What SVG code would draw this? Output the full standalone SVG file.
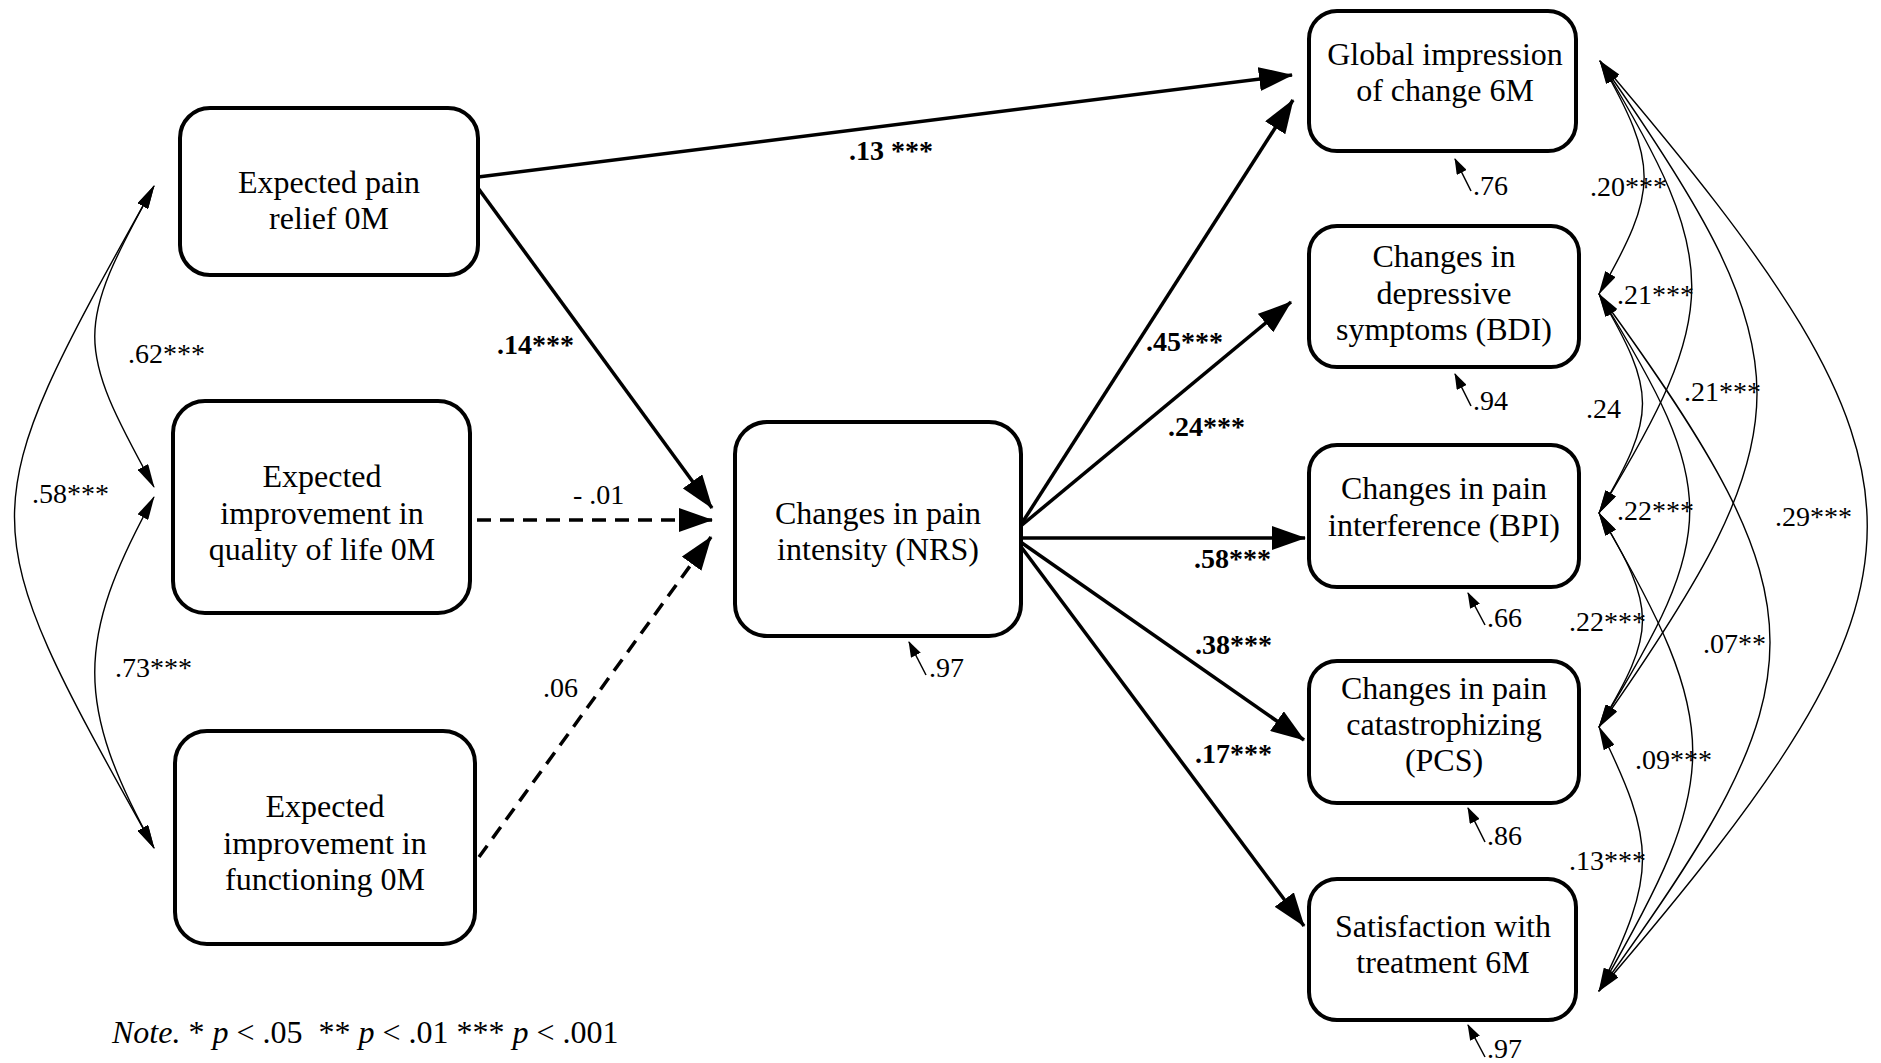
<svg xmlns="http://www.w3.org/2000/svg" width="1881" height="1063" viewBox="0 0 1881 1063">
<defs>
<marker id="ah" markerUnits="userSpaceOnUse" markerWidth="34" markerHeight="24" refX="33" refY="12" orient="auto"><path d="M0,0 L34,12 L0,24 Z" fill="#000"/></marker>
<marker id="ch" markerUnits="userSpaceOnUse" markerWidth="24" markerHeight="12" refX="23" refY="6" orient="auto-start-reverse"><path d="M0,0 L24,6 L0,12 Z" fill="#000"/></marker>
<marker id="rh" markerUnits="userSpaceOnUse" markerWidth="16" markerHeight="11" refX="15" refY="5.5" orient="auto"><path d="M0,0 L16,5.5 L0,11 Z" fill="#000"/></marker>
<style>
.box{fill:#fff;stroke:#000;stroke-width:4}
.nt{font-family:"Liberation Serif","Times New Roman",serif;font-size:32px;text-anchor:middle;fill:#000}
.lb{font-family:"Liberation Serif","Times New Roman",serif;font-size:28px;fill:#000}
.b{font-weight:bold}
.pa{stroke:#000;stroke-width:3.5;fill:none;marker-end:url(#ah)}
.dash{stroke-dasharray:14 9}
.cor{stroke:#000;stroke-width:1.4;fill:none;marker-start:url(#ch);marker-end:url(#ch)}
.res{stroke:#000;stroke-width:1.5;fill:none;marker-end:url(#rh)}
</style>
</defs>
<rect width="1881" height="1063" fill="#fff"/>

<g id="connectors">
  <!-- regression paths -->
  <line class="pa" x1="478" y1="177" x2="1292" y2="75"/>
  <line class="pa" x1="478" y1="188" x2="712" y2="508"/>
  <line class="pa dash" x1="477" y1="520" x2="712" y2="520"/>
  <line class="pa dash" x1="479" y1="857" x2="711" y2="537"/>
  <line class="pa" x1="1022" y1="523" x2="1293" y2="100"/>
  <line class="pa" x1="1022" y1="525" x2="1291" y2="302"/>
  <line class="pa" x1="1022" y1="538" x2="1305" y2="538"/>
  <line class="pa" x1="1022" y1="543" x2="1304" y2="740"/>
  <line class="pa" x1="1022" y1="548" x2="1304" y2="926"/>
  <!-- left correlations -->
  <path class="cor" d="M154,186 C75,329 75,344 154,487"/>
  <path class="cor" d="M154,186 C-32,520 -32,514 154,848"/>
  <path class="cor" d="M154,497 C75,640 75,705 154,848"/>
  <!-- right correlations -->
  <path class="cor" d="M1600,61 C1659,165 1659,190 1599,294"/>
  <path class="cor" d="M1600,61 C1723,263 1722,311 1599,513"/>
  <path class="cor" d="M1600,61 C1810,360 1809,428 1599,727"/>
  <path class="cor" d="M1600,61 C1957,480 1956,574 1599,991"/>
  <path class="cor" d="M1599,294 C1657,393 1657,414 1599,513"/>
  <path class="cor" d="M1599,294 C1720,489 1720,532 1599,727"/>
  <path class="cor" d="M1599,294 C1827,607 1827,678 1599,991"/>
  <path class="cor" d="M1599,513 C1657,609 1657,631 1599,727"/>
  <path class="cor" d="M1599,513 C1724,727 1724,777 1599,991"/>
  <path class="cor" d="M1599,727 C1657,845 1657,873 1599,991"/>
  <!-- residuals -->
  <line class="res" x1="926" y1="675" x2="909" y2="642"/>
  <line class="res" x1="1471" y1="191" x2="1455" y2="159"/>
  <line class="res" x1="1471" y1="406" x2="1455" y2="374"/>
  <line class="res" x1="1485" y1="625" x2="1468" y2="593"/>
  <line class="res" x1="1485" y1="842" x2="1468" y2="808"/>
  <line class="res" x1="1485" y1="1057" x2="1468" y2="1025"/>
</g>

<g id="n-epr">
  <rect class="box" x="180" y="108" width="298" height="167" rx="30"/>
  <text class="nt" x="329" y="193">Expected pain</text>
  <text class="nt" x="329" y="229">relief 0M</text>
</g>
<g id="n-eiq">
  <rect class="box" x="173" y="401" width="297" height="212" rx="32"/>
  <text class="nt" x="322" y="487">Expected</text>
  <text class="nt" x="322" y="524">improvement in</text>
  <text class="nt" x="322" y="560">quality of life 0M</text>
</g>
<g id="n-eif">
  <rect class="box" x="175" y="731" width="300" height="213" rx="32"/>
  <text class="nt" x="325" y="817">Expected</text>
  <text class="nt" x="325" y="854">improvement in</text>
  <text class="nt" x="325" y="890">functioning 0M</text>
</g>
<g id="n-nrs">
  <rect class="box" x="735" y="422" width="286" height="214" rx="32"/>
  <text class="nt" x="878" y="524">Changes in pain</text>
  <text class="nt" x="878" y="560">intensity (NRS)</text>
</g>
<g id="n-gic">
  <rect class="box" x="1309" y="11" width="267" height="140" rx="28"/>
  <text class="nt" x="1445" y="65">Global impression</text>
  <text class="nt" x="1445" y="101">of change 6M</text>
</g>
<g id="n-bdi">
  <rect class="box" x="1309" y="226" width="270" height="141" rx="28"/>
  <text class="nt" x="1444" y="267">Changes in</text>
  <text class="nt" x="1444" y="304">depressive</text>
  <text class="nt" x="1444" y="340">symptoms (BDI)</text>
</g>
<g id="n-bpi">
  <rect class="box" x="1309" y="445" width="270" height="142" rx="28"/>
  <text class="nt" x="1444" y="499">Changes in pain</text>
  <text class="nt" x="1444" y="536">interference (BPI)</text>
</g>
<g id="n-pcs">
  <rect class="box" x="1309" y="661" width="270" height="142" rx="28"/>
  <text class="nt" x="1444" y="699">Changes in pain</text>
  <text class="nt" x="1444" y="735">catastrophizing</text>
  <text class="nt" x="1444" y="771">(PCS)</text>
</g>
<g id="n-sat">
  <rect class="box" x="1309" y="879" width="267" height="141" rx="28"/>
  <text class="nt" x="1443" y="937">Satisfaction with</text>
  <text class="nt" x="1443" y="973">treatment 6M</text>
</g>

<g id="labels">
  <text class="lb b" x="849" y="160">.13 ***</text>
  <text class="lb b" x="497" y="354">.14***</text>
  <text class="lb" x="573" y="504">- .01</text>
  <text class="lb" x="543" y="697">.06</text>
  <text class="lb b" x="1146" y="351">.45***</text>
  <text class="lb b" x="1168" y="436">.24***</text>
  <text class="lb b" x="1194" y="568">.58***</text>
  <text class="lb b" x="1195" y="654">.38***</text>
  <text class="lb b" x="1195" y="763">.17***</text>

  <text class="lb" x="128" y="363">.62***</text>
  <text class="lb" x="32" y="503">.58***</text>
  <text class="lb" x="115" y="677">.73***</text>
  <text class="lb" x="1590" y="196">.20***</text>
  <text class="lb" x="1617" y="304">.21***</text>
  <text class="lb" x="1586" y="418">.24</text>
  <text class="lb" x="1684" y="401">.21***</text>
  <text class="lb" x="1617" y="520">.22***</text>
  <text class="lb" x="1775" y="526">.29***</text>
  <text class="lb" x="1569" y="631">.22***</text>
  <text class="lb" x="1703" y="653">.07**</text>
  <text class="lb" x="1635" y="769">.09***</text>
  <text class="lb" x="1569" y="870">.13***</text>

  <text class="lb" x="929" y="677">.97</text>
  <text class="lb" x="1473" y="195">.76</text>
  <text class="lb" x="1473" y="410">.94</text>
  <text class="lb" x="1487" y="627">.66</text>
  <text class="lb" x="1487" y="845">.86</text>
  <text class="lb" x="1487" y="1058">.97</text>

  <text class="lb" x="112" y="1043" style="font-size:32px"><tspan font-style="italic">Note.</tspan> * <tspan font-style="italic">p</tspan> &lt; .05 <tspan dx="8">**</tspan> <tspan font-style="italic">p</tspan> &lt; .01 *** <tspan font-style="italic">p</tspan> &lt; .001</text>
</g>
</svg>
